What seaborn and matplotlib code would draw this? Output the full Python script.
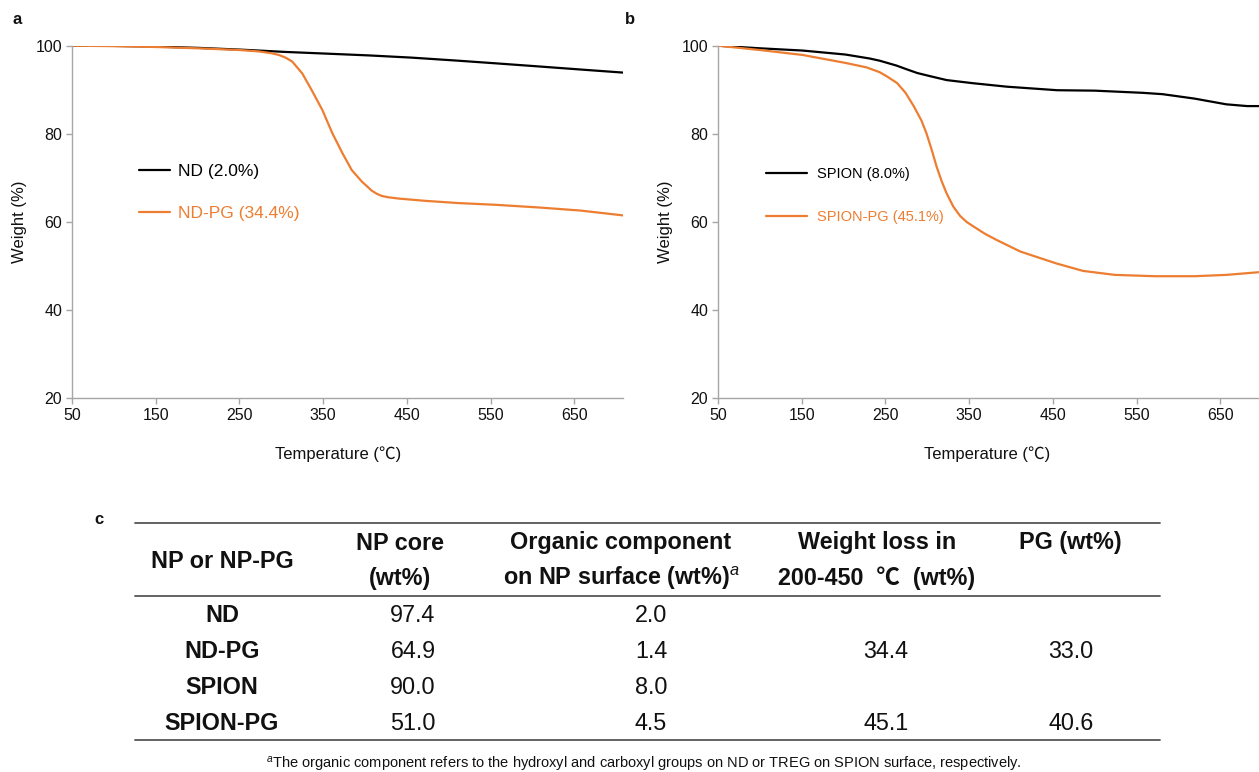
import matplotlib
matplotlib.use("Agg")
import matplotlib.pyplot as plt
import seaborn as sns

# ---- TGA curves: temperature (°C) and residual weight (%) ----
nd_temp = [50, 101, 151, 202, 252, 273, 303, 354, 404, 455, 511, 556, 607, 657, 708]
nd_weight = [100, 99.95, 99.8, 99.5, 99.1, 98.9, 98.6, 98.2, 97.8, 97.3, 96.6, 96.0, 95.3, 94.6, 93.9]

ndpg_temp = [50, 101, 151, 202, 252, 273, 288, 297, 305, 313, 325, 336, 349, 361, 373, 384,
             396, 408, 414, 420, 428, 441, 472, 511, 556, 607, 657, 708]
ndpg_weight = [100, 99.9, 99.7, 99.4, 99.0, 98.7, 98.3, 97.9, 97.3, 96.4, 93.7, 90.0, 85.4,
               80.1, 75.6, 71.8, 69.2, 67.1, 66.4, 65.9, 65.6, 65.3, 64.8, 64.3, 63.9, 63.3,
               62.6, 61.5]

spion_temp = [50, 101, 151, 202, 231, 243, 263, 276, 288, 303, 323, 354, 395, 455, 500, 558,
              581, 619, 657, 682, 708]
spion_weight = [100, 99.4, 98.9, 98.0, 97.1, 96.6, 95.5, 94.6, 93.8, 93.1, 92.2, 91.5, 90.7,
                89.9, 89.8, 89.3, 89.0, 88.0, 86.7, 86.3, 86.3]

spionpg_temp = [50, 101, 151, 202, 227, 243, 252, 264, 274, 284, 293, 299, 305, 311, 317, 323,
                331, 339, 347, 355, 369, 383, 411, 454, 486, 524, 572, 619, 657, 708]
spionpg_weight = [100, 99.0, 97.9, 96.1, 95.1, 94.0, 93.0, 91.5, 89.3, 86.2, 83.0, 80.1, 76.5,
                  72.6, 69.3, 66.5, 63.5, 61.4, 60.0, 59.0, 57.3, 55.9, 53.3, 50.6, 48.9, 48.0,
                  47.7, 47.7, 48.0, 48.8]

x_ticks = [50, 150, 250, 350, 450, 550, 650]
y_ticks = [20, 40, 60, 80, 100]

# ---- table c ----
col_headers = [["NP or NP-PG"], ["NP core", "(wt%)"],
               ["Organic component", r"on NP surface (wt%)$^{\it a}$"],
               ["Weight loss in", "200-450  \u2103  (wt%)"], ["PG (wt%)"]]
samples = ["ND", "ND-PG", "SPION", "SPION-PG"]
np_core = ["97.4", "64.9", "90.0", "51.0"]
organic = ["2.0", "1.4", "8.0", "4.5"]
loss_200_450 = ["", "34.4", "", "45.1"]
pg_wt = ["", "33.0", "", "40.6"]
footnote = (r"$^{\it a}$The organic component refers to the hydroxyl and carboxyl groups "
            r"on ND or TREG on SPION surface, respectively.")

ORANGE = "#ED7D31"
GREY = "#A6A6A6"
INK = "#111111"

sns.set_theme(style="white")
plt.rcParams["font.family"] = ["Liberation Sans", "Noto Sans CJK SC", "DejaVu Sans"]
plt.rcParams["mathtext.fontset"] = "custom"
plt.rcParams["mathtext.rm"] = "Liberation Sans"
plt.rcParams["mathtext.it"] = "Liberation Sans:italic"
plt.rcParams["mathtext.bf"] = "Liberation Sans:bold"
plt.rcParams["text.color"] = INK
plt.rcParams["axes.labelcolor"] = INK

W, H = 1259, 772
fig = plt.figure(figsize=(W / 100, H / 100), dpi=100)


def px_axes(left, top, right, bottom):
    return fig.add_axes([left / W, 1 - bottom / H, (right - left) / W, (bottom - top) / H])


def style_tga(ax, label_x):
    ax.set_xlim(50, 708)
    ax.set_ylim(20, 100)
    ax.set_xticks(x_ticks)
    ax.set_yticks(y_ticks)
    for s in ["top", "right"]:
        ax.spines[s].set_visible(False)
    for s in ["left", "bottom"]:
        ax.spines[s].set_color(GREY)
        ax.spines[s].set_linewidth(1.0)
    ax.tick_params(axis="both", which="major", direction="out", length=4, width=1.0,
                   color=GREY, labelsize=11.5, labelcolor=INK, pad=3,
                   bottom=True, left=True)
    ax.set_xlabel("Temperature (\u2103)", fontsize=12)
    ax.xaxis.set_label_coords(label_x, -0.137)
    ax.set_ylabel("Weight (%)", fontsize=12, labelpad=6)
    ax.grid(False)


# ---- panel a ----
ax_a = px_axes(72, 45.7, 623, 398.3)
sns.lineplot(x=nd_temp, y=nd_weight, ax=ax_a, color="black", lw=1.6, label="ND (2.0%)")
sns.lineplot(x=ndpg_temp, y=ndpg_weight, ax=ax_a, color=ORANGE, lw=1.6, label="ND-PG (34.4%)")
style_tga(ax_a, 0.483)
ax_a.legend(loc="upper left", bbox_to_anchor=(0.122, 0.664), frameon=False, fontsize=12.5,
            labelcolor="linecolor", handlelength=1.8, handletextpad=0.45,
            labelspacing=1.55, borderpad=0, borderaxespad=0)

# ---- panel b (its right end runs past the figure edge) ----
ax_b = px_axes(718, 45.7, 1269, 398.3)
sns.lineplot(x=spion_temp, y=spion_weight, ax=ax_b, color="black", lw=1.6, label="SPION (8.0%)")
sns.lineplot(x=spionpg_temp, y=spionpg_weight, ax=ax_b, color=ORANGE, lw=1.6,
             label="SPION-PG (45.1%)")
style_tga(ax_b, 0.489)
ax_b.legend(loc="upper left", bbox_to_anchor=(0.087, 0.657), frameon=False, fontsize=10.5,
            labelcolor="linecolor", handlelength=2.8, handletextpad=0.7,
            labelspacing=2.0, borderpad=0, borderaxespad=0)

# ---- panel letters ----
fig.text(12 / W, 1 - 20 / H, "a", fontsize=12, fontweight="bold", va="center", ha="left")
fig.text(625 / W, 1 - 20 / H, "b", fontsize=12, fontweight="bold", va="center", ha="left")
fig.text(94 / W, 1 - 520 / H, "c", fontsize=12, fontweight="bold", va="center", ha="left")

# ---- table c, drawn on an invisible axes in pixel units ----
ax_t = fig.add_axes([0, 0, 1, 1])
ax_t.set_xlim(0, W)
ax_t.set_ylim(H, 0)
ax_t.axis("off")
ax_t.patch.set_visible(False)

rule_kw = dict(color="#555555", lw=1.3)
ax_t.plot([135, 1160], [523, 523], **rule_kw)
ax_t.plot([135, 1160], [596, 596], **rule_kw)
ax_t.plot([135, 1160], [740, 740], **rule_kw)

TFS = 16.8
head_x = [222, 400, 621, 877, 1070]
for k, (hx, lines) in enumerate(zip(head_x, col_headers)):
    if k == 0:
        ax_t.text(hx, 561, lines[0], ha="center", va="center", fontsize=TFS, fontweight="bold")
    else:
        for ly, txt in zip([543, 578], lines):
            ax_t.text(hx, ly, txt, ha="center", va="center", fontsize=TFS, fontweight="bold")

row_y = [616, 652, 688, 723]
col_x = [222, 413, 651, 886, 1071]
for i, ry in enumerate(row_y):
    ax_t.text(col_x[0], ry, samples[i], ha="center", va="center", fontsize=TFS, fontweight="bold")
    for cx, col in zip(col_x[1:], [np_core, organic, loss_200_450, pg_wt]):
        if col[i]:
            ax_t.text(cx, ry, col[i], ha="center", va="center", fontsize=TFS)

ax_t.text(644, 764, footnote, ha="center", va="center", fontsize=10.5)

fig.savefig("out.png", dpi=100)
